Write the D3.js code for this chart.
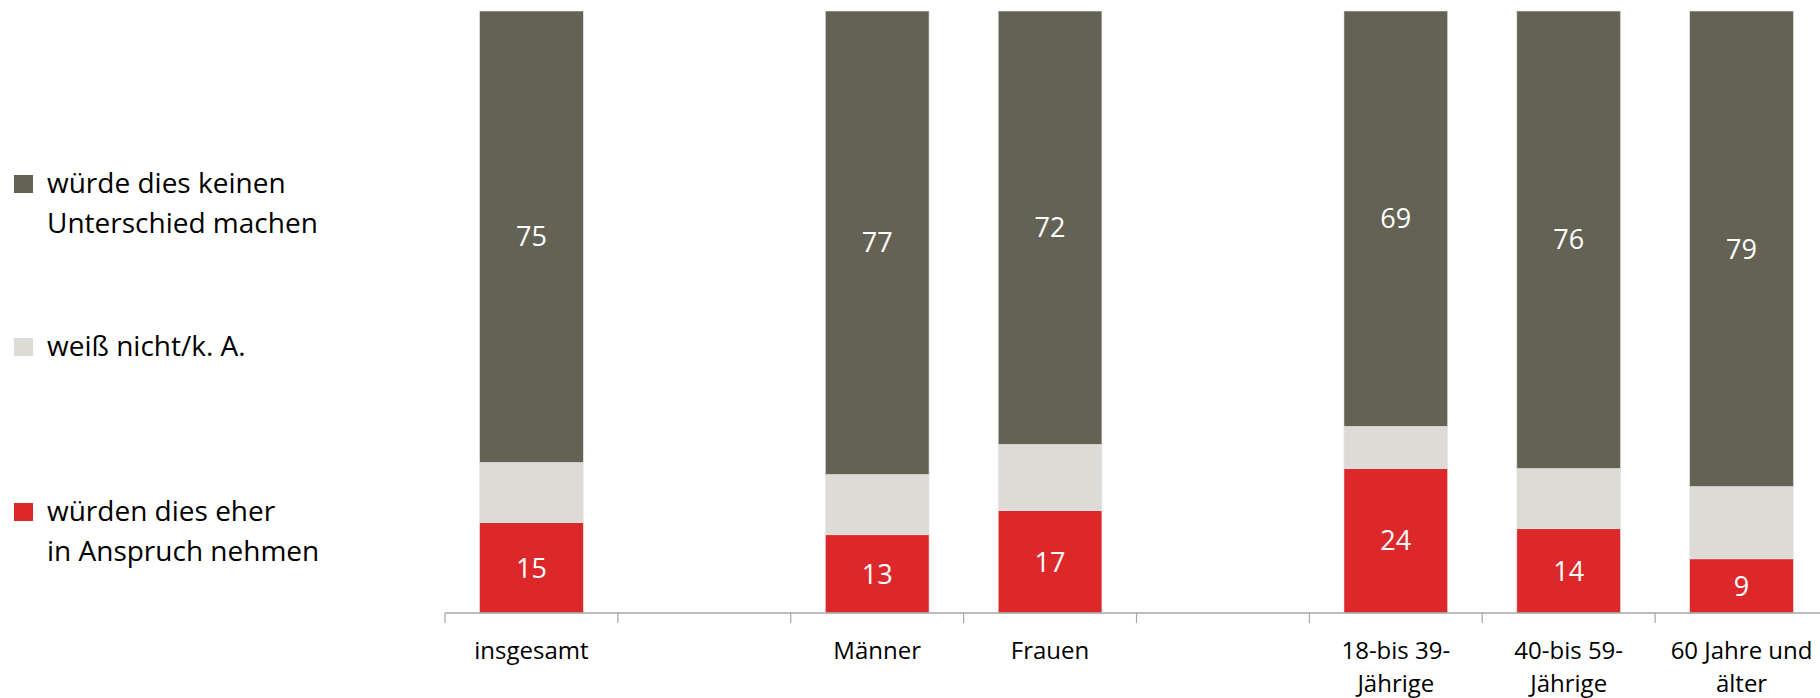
<!DOCTYPE html>
<html>
<head>
<meta charset="utf-8">
<script src="https://cdn.jsdelivr.net/npm/d3@7"></script>
<style>
  body { margin: 0; background: #fff; }
  text { font-family: "Open Sans", sans-serif; }
</style>
</head>
<body>
<svg id="chart"></svg>
<script>
// slots on the axis, blanks are the gaps between groups
const slots = ["insgesamt", "gap1", "Männer", "Frauen", "gap2", "18-39", "40-59", "60+"];
const slotLabels = [["insgesamt"], [], ["Männer"], ["Frauen"], [], ["18-bis 39-", "Jährige"], ["40-bis 59-", "Jährige"], ["60 Jahre und", "älter"]];

const groups = ["insgesamt", "Männer", "Frauen", "18-39", "40-59", "60+"];
const eher = [15, 13, 17, 24, 14, 9];
const weissNicht = [10, 10, 11, 7, 10, 12];
const keinen = [75, 77, 72, 69, 76, 79];

const keys = ["eher", "wn", "keinen"];
const colors = { eher: "#dc282a", wn: "#dcdbd6", keinen: "#646254" };
const legendItems = [
  { key: "keinen", lines: ["würde dies keinen", "Unterschied machen"], y: 193 },
  { key: "wn", lines: ["weiß nicht/k. A."], y: 356 },
  { key: "eher", lines: ["würden dies eher", "in Anspruch nehmen"], y: 521 }
];

const W = 1820, H = 698;
const svg = d3.select("#chart").attr("width", W).attr("height", H);

const x = d3.scaleBand()
  .domain(slots)
  .range([445, 1828])
  .paddingInner(0.4)
  .paddingOuter(0.2);

const y = d3.scaleLinear().domain([0, 100]).range([613, 11]);

const rows = groups.map((g, i) => ({ group: g, eher: eher[i], wn: weissNicht[i], keinen: keinen[i] }));
const series = d3.stack().keys(keys)(rows);

const layer = svg.append("g")
  .selectAll("g")
  .data(series)
  .join("g")
  .attr("fill", d => colors[d.key]);

layer.selectAll("rect")
  .data(d => d)
  .join("rect")
  .attr("x", d => x(d.data.group))
  .attr("width", x.bandwidth())
  .attr("y", d => y(d[1]))
  .attr("height", d => y(d[0]) - y(d[1]))
  .attr("stroke", "#e6e6e6")
  .attr("stroke-width", 0.6);

// value labels for red and dark segments
series.filter(s => s.key !== "wn").forEach(s => {
  svg.append("g")
    .selectAll("text")
    .data(s)
    .join("text")
    .attr("x", d => x(d.data.group) + x.bandwidth() / 2)
    .attr("y", d => (y(d[0]) + y(d[1])) / 2)
    .attr("dy", "0.36em")
    .attr("text-anchor", "middle")
    .attr("fill", "#fff")
    .attr("font-size", 27)
    .text(d => d[1] - d[0]);
});

// axis
const axis = svg.append("g");
axis.append("line")
  .attr("x1", 445).attr("x2", W)
  .attr("y1", y(0)).attr("y2", y(0))
  .attr("stroke", "#a6a6a6").attr("stroke-width", 1.5);

const half = x.step() * x.paddingInner() / 2;
axis.selectAll(".tick")
  .data(slots)
  .join("line")
  .attr("x1", d => x(d) - half).attr("x2", d => x(d) - half)
  .attr("y1", y(0)).attr("y2", y(0) + 10)
  .attr("stroke", "#a6a6a6").attr("stroke-width", 1.2);

axis.selectAll(".lbl")
  .data(slots)
  .join("text")
  .attr("text-anchor", "middle")
  .attr("font-size", 24)
  .attr("fill", "#000")
  .each(function (d, i) {
    const t = d3.select(this);
    slotLabels[i].forEach((line, j) => {
      t.append("tspan")
        .attr("x", x(d) + x.bandwidth() / 2)
        .attr("y", 659 + j * 33)
        .text(line);
    });
  });

// legend
const legend = svg.append("g");
legendItems.forEach(item => {
  legend.append("rect")
    .attr("x", 14).attr("y", item.y - 18)
    .attr("width", 19).attr("height", 18)
    .attr("fill", colors[item.key]);
  const t = legend.append("text")
    .attr("font-size", 28)
    .attr("fill", "#000");
  item.lines.forEach((line, j) => {
    t.append("tspan").attr("x", 47).attr("y", item.y + j * 39.5).text(line);
  });
});
</script>
</body>
</html>
